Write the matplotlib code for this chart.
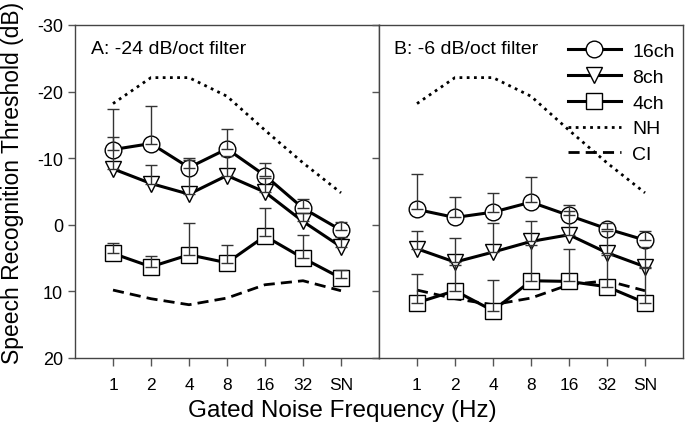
import matplotlib
matplotlib.use("Agg")
import matplotlib.pyplot as plt
import numpy as np

plt.rcParams['font.family'] = ['Liberation Sans', 'DejaVu Sans']
plt.rcParams['axes.unicode_minus'] = False

freqs = ['1', '2', '4', '8', '16', '32', 'SN']

# panel A: -24 dB/oct filter
a_16 = [-11.3, -12.2, -8.6, -11.4, -7.4, -2.5, 0.8]
a_16_top = [-17.4, -17.9, -10.0, -14.4, -9.3, -3.8, -0.4]
a_8 = [-8.4, -6.2, -4.6, -7.4, -4.9, -0.5, 3.3]
a_8_top = [-13.2, -9.0, -9.8, -10.4, -7.0, -1.8, 1.8]
a_4 = [4.3, 6.3, 4.5, 5.7, 1.7, 5.0, 8.0]
a_4_top = [2.8, 4.7, -0.2, 3.0, -2.5, 1.5, 6.8]

# panel B: -6 dB/oct filter
b_16 = [-2.3, -1.1, -1.9, -3.4, -1.4, 0.6, 2.3]
b_16_top = [-7.7, -4.1, -4.8, -7.2, -2.9, -0.3, 1.0]
b_8 = [3.6, 5.6, 4.1, 2.5, 1.5, 4.2, 6.3]
b_8_top = [0.9, 2.0, -0.3, -0.6, -2.0, 1.0, 3.3]
b_4 = [11.7, 9.9, 12.9, 8.4, 8.5, 9.3, 11.7]
b_4_top = [7.4, 6.0, 8.3, 3.0, 3.7, 4.5, 6.5]

# reference lines
nh = [-18.2, -22.1, -22.1, -19.3, -14.2, -9.3, -4.8]
ci = [9.8, 11.1, 12.0, 11.0, 9.0, 8.4, 9.9]

x = np.arange(1, len(freqs) + 1)

fig = plt.figure(figsize=(6.85, 4.31), dpi=100)
axA = fig.add_axes([75/685, 1-359/431, 304/685, 333/431])
axB = fig.add_axes([379/685, 1-359/431, 304/685, 333/431])

def draw(ax, s16, t16, s8, t8, s4, t4):
    ax.plot(x, nh, linestyle=(0, (1, 1.6)), color='black', lw=2.0, label='NH', zorder=2)
    ax.plot(x, ci, linestyle=(0, (4, 2.2)), color='black', lw=2.0, label='CI', zorder=2)
    series = [(s16, t16, 'o', 12, '16ch'), (s8, t8, 'v', 12, '8ch'), (s4, t4, 's', 11, '4ch')]
    for vals, tops, mk, ms, lab in series:
        vals = np.array(vals)
        tops = np.array(tops)
        ax.plot(x, vals, marker=mk, ms=ms, color='black', lw=2.2, mfc='white',
                mec='black', mew=1.0, label=lab, zorder=3)
        # one-sided bars, toward better (more negative) thresholds
        err = np.vstack([vals - tops, np.zeros(len(x))])
        ax.errorbar(x, vals, yerr=err, fmt='none', ecolor='#333333', elinewidth=1.0,
                    capsize=4.5, capthick=1.0, zorder=4)
    ax.set_xlim(0, 8)
    ax.set_ylim(20, -30)
    ax.set_xticks(x)
    ax.set_xticklabels(freqs, fontsize=12.5)
    ax.set_yticks([-30, -20, -10, 0, 10, 20])
    ax.tick_params(axis='x', direction='out', length=6, width=1, color='#555555', pad=8)
    ax.tick_params(axis='y', direction='out', length=5, width=1, color='#555555', labelsize=13)
    for sp in ax.spines.values():
        sp.set_color('#444444')
        sp.set_linewidth(1.0)

draw(axA, a_16, a_16_top, a_8, a_8_top, a_4, a_4_top)
draw(axB, b_16, b_16_top, b_8, b_8_top, b_4, b_4_top)
axB.tick_params(axis='y', labelleft=False)

axA.text(0.053, 0.928, 'A: -24 dB/oct filter', transform=axA.transAxes, fontsize=14,
         ha='left', va='center')
axB.text(0.049, 0.928, 'B: -6 dB/oct filter', transform=axB.transAxes, fontsize=14,
         ha='left', va='center')

h, l = axB.get_legend_handles_labels()
order = [l.index(k) for k in ['16ch', '8ch', '4ch', 'NH', 'CI']]
axB.legend([h[i] for i in order], [l[i] for i in order], loc='upper right',
           bbox_to_anchor=(1.03, 1.0), frameon=False, fontsize=14, handlelength=2.7,
           handletextpad=0.6, labelspacing=0.42, borderaxespad=0.6, borderpad=0.3)

fig.text(0.5, 1-411/431, 'Gated Noise Frequency (Hz)', ha='center', va='center', fontsize=17.5)
fig.text(13/685, 0.575, 'Speech Recognition Threshold (dB)', ha='center', va='center',
         rotation=90, fontsize=16.5)

fig.savefig('out.png', dpi=100)
